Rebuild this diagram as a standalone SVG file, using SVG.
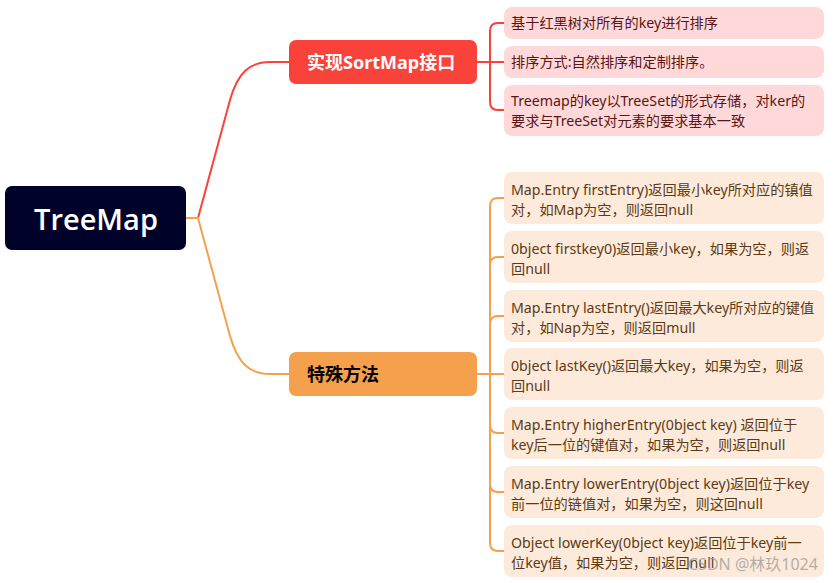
<svg xmlns="http://www.w3.org/2000/svg" width="833" height="583" viewBox="0 0 833 583">
<style>
.leaf-r rect{fill:#FFD9D9}
.leaf-o rect{fill:#FDEADB}
.leaf-r text{fill:#5A1414}
.leaf-o text{fill:#5C3A14}
text{font-family:"Noto Sans","Noto Sans CJK SC",sans-serif;font-size:14.2px}
.br text{font-size:18px;font-weight:bold}
.cr{fill:none;stroke:#F9423A;stroke-width:2}
.co{fill:none;stroke:#F5A04C;stroke-width:2}
</style>
<rect width="833" height="583" fill="#fff"/>
<g id="connectors">
<path class="cr" d="M186,218 H198 L230,100 C238,72 250,62 270,62 H289"/>
<path class="co" d="M186,218 H198 L230,336 C238,364 250,374 270,374 H289"/>
<path class="cr" d="M477,62 H490 V31 Q490,23 498,23 H504"/>
<path class="cr" d="M477,62 H504"/>
<path class="cr" d="M477,62 H490 V102 Q490,110 498,110 H504"/>
<path class="co" d="M477,374 H490 V206 Q490,198 498,198 H504"/>
<path class="co" d="M477,374 H490 V265 Q490,257 498,257 H504"/>
<path class="co" d="M477,374 H490 V324 Q490,316 498,316 H504"/>
<path class="co" d="M477,374 H504"/>
<path class="co" d="M477,374 H490 V425 Q490,433 498,433 H504"/>
<path class="co" d="M477,374 H490 V484 Q490,492 498,492 H504"/>
<path class="co" d="M477,374 H490 V543 Q490,551 498,551 H504"/>
</g>
<g id="root">
<rect x="5" y="186" width="181" height="64" rx="7" fill="#000229"/>
<text x="96" y="230" text-anchor="middle" fill="#fff" style="font-family:'Open Sans',sans-serif;font-size:29px;font-weight:600">TreeMap</text>
</g>
<g id="branch1" class="br">
<rect x="289" y="40" width="188" height="44" rx="7" fill="#F9423A"/>
<text x="307" y="69" fill="#fff">实现SortMap接口</text>
</g>
<g id="branch2" class="br">
<rect x="289" y="352" width="188" height="44" rx="7" fill="#F5A04C"/>
<text x="307" y="381" fill="#000">特殊方法</text>
</g>
<g id="leaf-r1" class="leaf-r">
<rect x="504" y="7" width="320" height="32" rx="8"/>
<text x="511" y="28">基于红黑树对所有的key进行排序</text>
</g>
<g id="leaf-r2" class="leaf-r">
<rect x="504" y="46" width="320" height="32" rx="8"/>
<text x="511" y="67">排序方式:自然排序和定制排序。</text>
</g>
<g id="leaf-r3" class="leaf-r">
<rect x="504" y="85" width="320" height="51" rx="8"/>
<text x="511" y="106">Treemap的key以TreeSet的形式存储，对ker的</text>
<text x="511" y="126">要求与TreeSet对元素的要求基本一致</text>
</g>
<g id="leaf-o1" class="leaf-o">
<rect x="504" y="172" width="320" height="52" rx="8"/>
<text x="511" y="195">Map.Entry firstEntry)返回最小key所对应的镇值</text>
<text x="511" y="215">对，如Map为空，则返回null</text>
</g>
<g id="leaf-o2" class="leaf-o">
<rect x="504" y="231" width="320" height="52" rx="8"/>
<text x="511" y="254">0bject firstkey0)返回最小key，如果为空，则返</text>
<text x="511" y="274">回null</text>
</g>
<g id="leaf-o3" class="leaf-o">
<rect x="504" y="290" width="320" height="52" rx="8"/>
<text x="511" y="313">Map.Entry lastEntry()返回最大key所对应的键值</text>
<text x="511" y="333">对，如Nap为空，则返回mull</text>
</g>
<g id="leaf-o4" class="leaf-o">
<rect x="504" y="348" width="320" height="52" rx="8"/>
<text x="511" y="371">0bject lastKey()返回最大key，如果为空，则返</text>
<text x="511" y="391">回null</text>
</g>
<g id="leaf-o5" class="leaf-o">
<rect x="504" y="407" width="320" height="52" rx="8"/>
<text x="511" y="430">Map.Entry higherEntry(0bject key)  返回位于</text>
<text x="511" y="450">key后一位的键值对，如果为空，则返回null</text>
</g>
<g id="leaf-o6" class="leaf-o">
<rect x="504" y="466" width="320" height="52" rx="8"/>
<text x="511" y="489">Map.Entry lowerEntry(0bject key)返回位于key</text>
<text x="511" y="509">前一位的链值对，如果为空，则这回null</text>
</g>
<g id="leaf-o7" class="leaf-o">
<rect x="504" y="525" width="320" height="52" rx="8"/>
<text x="511" y="548">Object lowerKey(0bject key)返回位于key前一</text>
<text x="511" y="568">位key值，如果为空，则返回null</text>
</g>
<text x="688" y="570" style="font-size:16px" fill="#999" fill-opacity="0.75">CSDN @林玖1024</text>
</svg>
